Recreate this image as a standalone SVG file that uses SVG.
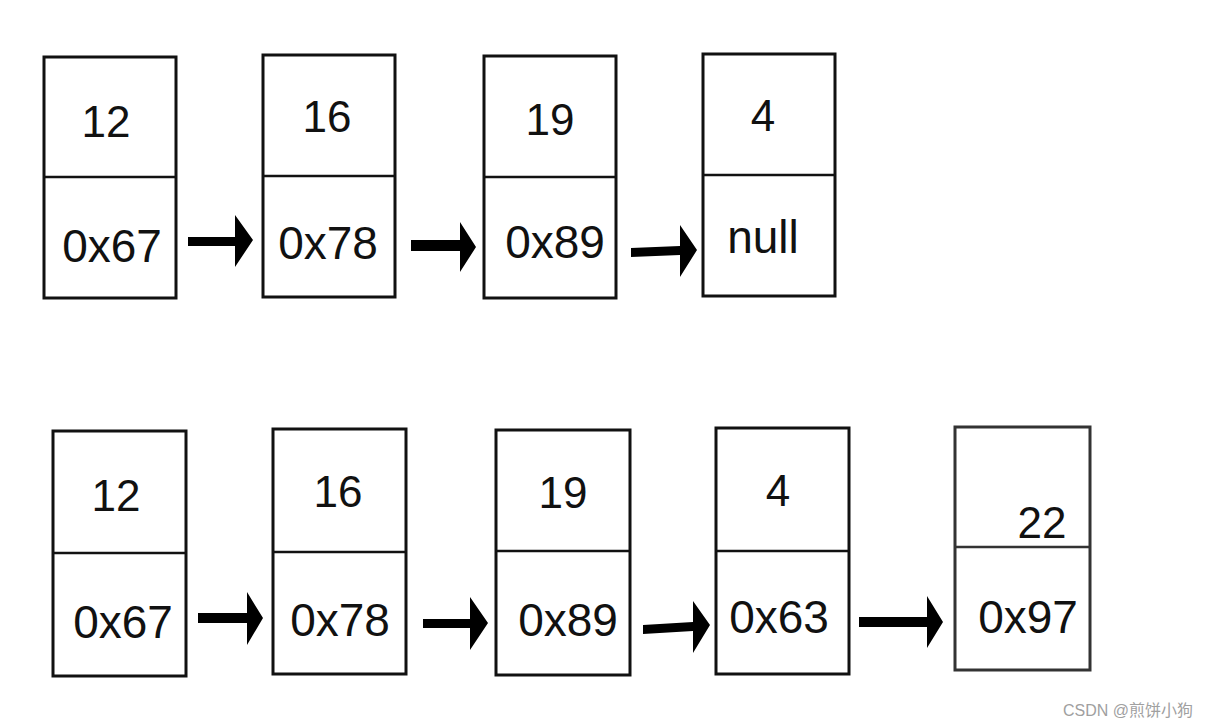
<svg xmlns="http://www.w3.org/2000/svg" width="1214" height="727" viewBox="0 0 1214 727">
<style>
.box{fill:#fff;stroke:#111;stroke-width:3}
.div{stroke:#111;stroke-width:2.5}
.t{font-family:"Liberation Sans",Arial,Helvetica,sans-serif;font-size:44px;fill:#111;text-anchor:middle}
.h{font-size:46px}
.arr{fill:#000}
.wm{font-family:"Liberation Sans","Noto Sans CJK SC",sans-serif;font-size:16px;fill:#a0a0a0}
</style>
<rect width="1214" height="727" fill="#fff"/>
<g id="n1"><rect class="box" x="44" y="57" width="132" height="241"/><line class="div" x1="44" y1="177" x2="176" y2="177"/><text class="t" x="106" y="137">12</text><text class="t h" x="112" y="262">0x67</text></g>
<g id="n2"><rect class="box" x="263" y="55" width="132" height="242"/><line class="div" x1="263" y1="176" x2="395" y2="176"/><text class="t" x="327" y="132">16</text><text class="t h" x="328" y="259">0x78</text></g>
<g id="n3"><rect class="box" x="484" y="56" width="132" height="242"/><line class="div" x1="484" y1="177" x2="616" y2="177"/><text class="t" x="550" y="135">19</text><text class="t h" x="555" y="258">0x89</text></g>
<g id="n4"><rect class="box" x="703" y="54" width="132" height="242"/><line class="div" x1="703" y1="175" x2="835" y2="175"/><text class="t" x="763" y="131">4</text><text class="t h" x="763" y="253">null</text></g>
<g id="m1"><rect class="box" x="53" y="431" width="133" height="245"/><line class="div" x1="53" y1="553" x2="186" y2="553"/><text class="t" x="116" y="511">12</text><text class="t h" x="123" y="638">0x67</text></g>
<g id="m2"><rect class="box" x="273" y="429" width="133" height="245"/><line class="div" x1="273" y1="552" x2="406" y2="552"/><text class="t" x="338" y="507">16</text><text class="t h" x="340" y="636">0x78</text></g>
<g id="m3"><rect class="box" x="496" y="430" width="134" height="245"/><line class="div" x1="496" y1="551" x2="630" y2="551"/><text class="t" x="563" y="508">19</text><text class="t h" x="568" y="636">0x89</text></g>
<g id="m4"><rect class="box" x="716" y="428" width="133" height="246"/><line class="div" x1="716" y1="551" x2="849" y2="551"/><text class="t" x="778" y="506">4</text><text class="t h" x="779" y="633">0x63</text></g>
<g id="m5"><rect class="box" x="955" y="427" width="135" height="243" style="stroke:#333"/><line class="div" x1="955" y1="547" x2="1090" y2="547" style="stroke:#333"/><text class="t" x="1042" y="538">22</text><text class="t h" x="1028" y="633">0x97</text></g>
<g id="connectors">
<polygon class="arr" points="188,237 235,237 235,215 253,240 235,267 235,246 188,246"/>
<polygon class="arr" points="411,240 460,240 460,222 476,247 460,272 460,251 411,251"/>
<polygon class="arr" points="631,248 680,246 680,225 697,250 680,277 680,255 631,257"/>
<polygon class="arr" points="198,613 247,613 247,592 263,618 247,645 247,623 198,623"/>
<polygon class="arr" points="423,619 470,619 470,597 488,623 470,650 470,628 423,628"/>
<polygon class="arr" points="643,625 693,622 693,601 710,625 693,653 693,631 643,634"/>
<polygon class="arr" points="859,617 927,617 927,596 943,622 927,648 927,627 859,627"/>
</g>
<text class="wm" x="1063" y="716">CSDN @煎饼小狗</text>
</svg>
